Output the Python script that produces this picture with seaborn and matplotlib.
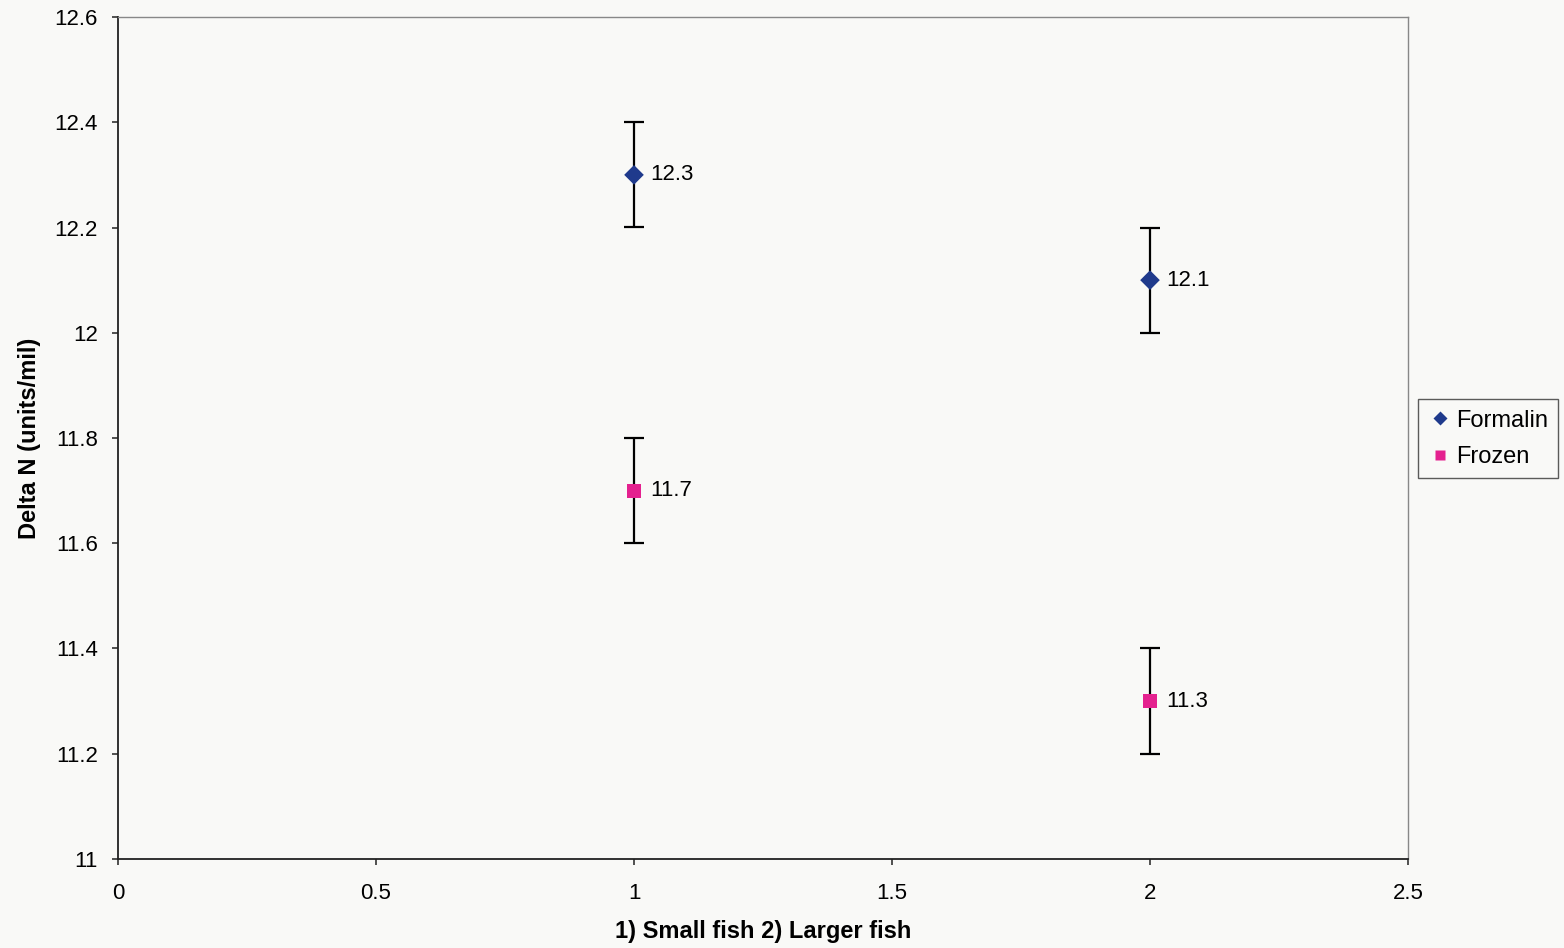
import matplotlib
matplotlib.use("Agg")
import matplotlib.pyplot as plt
import seaborn as sns
import pandas as pd

# Fish size groups and mean delta N per preservation method
groups = [1, 2]
formalin = [12.3, 12.1]
frozen = [11.7, 11.3]
err = [0.1, 0.1]
series_names = ["Formalin", "Frozen"]
colors = {"Formalin": "#1f3a8c", "Frozen": "#e4218f"}
markers = {"Formalin": "D", "Frozen": "s"}

df = pd.DataFrame({
    "group": groups * 2,
    "value": formalin + frozen,
    "err": err * 2,
    "series": [series_names[0]] * len(groups) + [series_names[1]] * len(groups),
})

sns.set_theme(style="ticks")
plt.rcParams["font.family"] = ["Liberation Sans", "DejaVu Sans"]
plt.rcParams["text.color"] = "black"
plt.rcParams["axes.labelcolor"] = "black"
plt.rcParams["xtick.color"] = "black"
plt.rcParams["ytick.color"] = "black"

fig = plt.figure(figsize=(15.64, 9.48), dpi=100, facecolor="#f9f9f7")
ax = fig.add_axes([118 / 1564, 1 - 859 / 948, 1290 / 1564, 842 / 948])
ax.set_facecolor("#f9f9f7")

# error bars first so markers sit on top
ax.errorbar(df["group"], df["value"], yerr=df["err"], fmt="none",
            ecolor="black", elinewidth=1.6, capsize=7, capthick=1.6, zorder=2)

sns.scatterplot(data=df, x="group", y="value", hue="series", style="series",
                palette=colors, markers=markers, s=100, edgecolor="none",
                ax=ax, zorder=3)

for _, r in df.iterrows():
    ax.annotate(f"{r['value']:g}", (r["group"], r["value"]), xytext=(12, 0),
                textcoords="offset points", va="center", ha="left",
                fontsize=16, color="black")

ax.set_xlim(0, 2.5)
ax.set_ylim(11, 12.6)
ax.set_xticks([0, 0.5, 1, 1.5, 2, 2.5])
ax.set_xticklabels(["0", "0.5", "1", "1.5", "2", "2.5"])
ax.set_yticks([11, 11.2, 11.4, 11.6, 11.8, 12, 12.2, 12.4, 12.6])
ax.set_yticklabels(["11", "11.2", "11.4", "11.6", "11.8", "12", "12.2", "12.4", "12.6"])
ax.tick_params(axis="both", labelsize=16, length=4, width=1.2, color="#333333",
               direction="out")
ax.tick_params(axis="x", pad=13.5)
ax.tick_params(axis="y", pad=10.5)

for side in ["left", "bottom"]:
    ax.spines[side].set_color("#222222")
    ax.spines[side].set_linewidth(1.3)
for side in ["top", "right"]:
    ax.spines[side].set_visible(True)
    ax.spines[side].set_color("#888888")
    ax.spines[side].set_linewidth(1.0)

ax.set_xlabel("1) Small fish 2) Larger fish", fontsize=17, fontweight="bold", labelpad=11)
ax.set_ylabel("Delta N (units/mil)", fontsize=17, fontweight="bold", labelpad=10)

leg = ax.legend(loc="upper left", bbox_to_anchor=(10 / 1290, 1 - (399 - 17) / 842),
                bbox_transform=ax.transAxes, frameon=True,
                fancybox=False, fontsize=17, handletextpad=0.15, borderpad=0.45,
                labelspacing=0.6, markerscale=0.75, handlelength=1.0,
                borderaxespad=0)
leg.set_bbox_to_anchor((1 + 10 / 1290, 1 - (399 - 17) / 842), transform=ax.transAxes)
leg.get_frame().set_edgecolor("#333333")
leg.get_frame().set_linewidth(1.0)
leg.get_frame().set_facecolor("#f9f9f7")

fig.savefig("out.png", dpi=100, facecolor=fig.get_facecolor())
